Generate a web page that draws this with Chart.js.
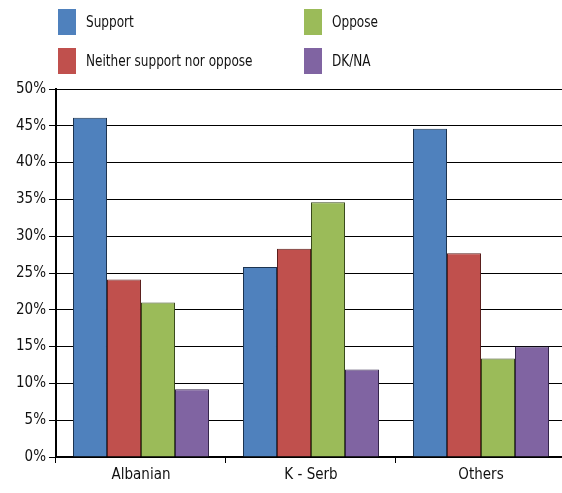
<!DOCTYPE html>
<html>
<head>
<meta charset="utf-8">
<script src="https://cdn.jsdelivr.net/npm/chart.js@4.4.1/dist/chart.umd.min.js"></script>
<style>
  html, body { margin: 0; padding: 0; background: #fff; }
  #wrap { width: 562px; height: 493px; overflow: hidden; position: relative; }
  canvas { display: block; }
</style>
</head>
<body>
<div id="wrap">
  <canvas id="opinionChart" width="566" height="493"></canvas>
</div>
<script>
// --- DATA ---
const groups = ['Albanian', 'K - Serb', 'Others'];
const seriesNames = ['Support', 'Neither support nor oppose', 'Oppose', 'DK/NA'];
const support = [46.1, 25.8, 44.6];
const neither = [24.1, 28.3, 27.7];
const oppose = [21.0, 34.6, 13.4];
const dkna = [9.2, 11.9, 15.0];

const fills = ['#4F81BD', '#C0504D', '#9BBB59', '#8064A2'];
const edges = ['#1d3450', '#5a1f1d', '#3a4a1c', '#33254a'];
const FONT = '"DejaVu Sans Condensed", "Liberation Sans Narrow", sans-serif';

// --- LEGEND (2 x 2 grid, column order) ---
const gridLegend = {
  id: 'gridLegend',
  afterDraw(chart) {
    const c = chart.ctx;
    const cols = [58, 304];
    const rows = [9, 48];
    chart.data.datasets.forEach((ds, i) => {
      const x = cols[Math.floor(i / 2)];
      const y = rows[i % 2];
      c.save();
      c.fillStyle = ds.backgroundColor;
      c.fillRect(x, y, 18, 26);
      c.fillStyle = '#111';
      c.font = '16px ' + FONT;
      c.textBaseline = 'middle';
      c.translate(x + 28, y + 14);
      c.scale(0.84, 1);
      c.fillText(ds.label, 0, 0);
      c.restore();
    });
  }
};

const values = [support, neither, oppose, dkna];

const ctx = document.getElementById('opinionChart');
const opinionChart = new Chart(ctx, {
  type: 'bar',
  data: {
    labels: groups,
    datasets: seriesNames.map((name, i) => ({
      label: name,
      data: values[i],
      backgroundColor: fills[i],
      borderColor: edges[i],
      borderWidth: 1,
      borderSkipped: 'bottom'
    }))
  },
  options: {
    responsive: false,
    animation: false,
    layout: { padding: { top: 89, left: 13, right: 0, bottom: 6 } },
    datasets: { bar: { categoryPercentage: 0.8, barPercentage: 1.0 } },
    plugins: {
      legend: { display: false },
      tooltip: { enabled: false }
    },
    scales: {
      x: {
        grid: {
          offset: true,
          drawOnChartArea: false,
          drawTicks: true,
          tickLength: 6,
          color: '#000'
        },
        border: { display: true, color: '#000', width: 2 },
        ticks: { color: '#111', font: { family: FONT, size: 15 }, padding: 3 }
      },
      y: {
        min: 0,
        max: 50,
        grid: {
          color: '#000',
          lineWidth: 1,
          tickLength: 7,
          drawTicks: true
        },
        border: { display: true, color: '#000', width: 2 },
        ticks: {
          stepSize: 5,
          color: '#111',
          padding: 3,
          font: { family: FONT, size: 15 },
          callback: v => v + '%'
        }
      }
    }
  },
  plugins: [gridLegend]
});
</script>
</body>
</html>
